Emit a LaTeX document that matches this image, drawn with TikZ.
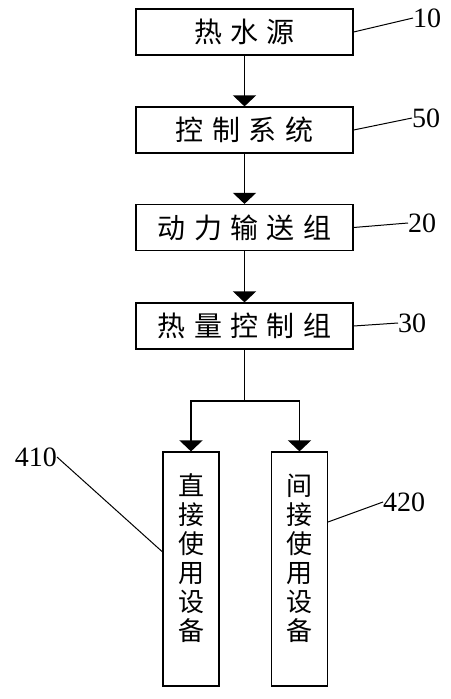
\documentclass[tikz,border=0pt]{standalone}
\usepackage{fontspec}
\newfontfamily\cjk[LetterSpace=30]{Noto Sans CJK SC}
\newfontfamily\cjkv{Noto Sans CJK SC}
\newfontfamily\numfont{Liberation Serif}
\usetikzlibrary{%
  arrows.meta,
  calc
}

\tikzset{
  box/.style={draw, line width=1.2pt, minimum width=217pt, minimum height=46pt,
    inner sep=0pt, font=\cjk\fontsize{28}{28}\selectfont},
  vbox/.style={draw, line width=1.2pt, minimum width=56pt, minimum height=234pt,
    inner sep=0pt, align=center, text depth=24pt,
    font=\cjkv\fontsize{26}{29}\selectfont},
  num/.style={inner sep=0pt, font=\numfont\fontsize{28}{28}\selectfont},
  flow/.style={line width=1.2pt, -{Triangle[width=23pt,length=11pt]}},
  lead/.style={line width=1pt}
}

\begin{document}
\begin{tikzpicture}[x=1pt, y=-1pt]

  \useasboundingbox (0,0) rectangle (450,699);

  \node[box] (source) at (244.5,32) {热水源};
  \node[box] (control) at (244.5,130) {控制系统};
  \node[box] (pump) at (244.5,227.5) {动力输送组};
  \node[box] (heat) at (244.5,326) {热量控制组};
  \node[vbox] (direct) at (191,569) {直\\接\\使\\用\\设\\备};
  \node[vbox] (indirect) at (299.5,569) {间\\接\\使\\用\\设\\备};

  \draw[flow] (source) -- (control);
  \draw[flow] (control) -- (pump);
  \draw[flow] (pump) -- (heat);
  \coordinate (split) at (244.5,401);
  \draw[line width=1.2pt] (heat.south) -- (split);
  \draw[flow] (split) -| (direct.north);
  \draw[flow] (split) -| (indirect.north);

  \node[num, anchor=west] (n10) at (413,18) {10};
  \node[num, anchor=west] (n50) at (412,118) {50};
  \node[num, anchor=west] (n20) at (408,223) {20};
  \node[num, anchor=west] (n30) at (398,323) {30};
  \node[num, anchor=east] (n410) at (57,457) {410};
  \node[num, anchor=west] (n420) at (383,502) {420};

  \draw[lead] (source.east) -- (n10.west);
  \draw[lead] (control.east) -- (n50.west);
  \draw[lead] (pump.east) -- (n20.west);
  \draw[lead] (heat.east) -- (n30.west);
  \draw[lead] ($(direct.north west)!0.427!(direct.south west)$) -- (n410.east);
  \draw[lead] ($(indirect.north east)!0.30!(indirect.south east)$) -- (n420.west);
\end{tikzpicture}
\end{document}
